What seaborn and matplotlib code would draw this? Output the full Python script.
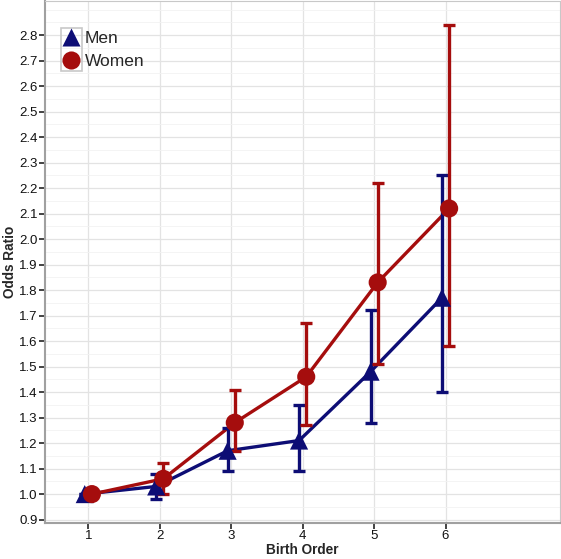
import matplotlib
matplotlib.use("Agg")
import matplotlib.pyplot as plt
import numpy as np
import pandas as pd
import seaborn as sns
from matplotlib.patches import Rectangle
from matplotlib.ticker import MultipleLocator, FormatStrFormatter

birth_order = [1, 2, 3, 4, 5, 6]
men_or = [1.00, 1.03, 1.17, 1.21, 1.48, 1.77]
men_lo = [1.00, 0.98, 1.09, 1.09, 1.28, 1.40]
men_hi = [1.00, 1.08, 1.26, 1.35, 1.72, 2.25]
women_or = [1.00, 1.06, 1.28, 1.46, 1.83, 2.12]
women_lo = [1.00, 1.00, 1.17, 1.27, 1.51, 1.58]
women_hi = [1.00, 1.12, 1.41, 1.67, 2.22, 2.84]

colors = {"Men": "#0d0d75", "Women": "#a50d0d"}
offsets = {"Men": -0.05, "Women": 0.05}

frames = []
for sex, orr, lo, hi in [("Men", men_or, men_lo, men_hi), ("Women", women_or, women_lo, women_hi)]:
    frames.append(pd.DataFrame({
        "birth_order": np.array(birth_order) + offsets[sex],
        "odds_ratio": orr, "lo": lo, "hi": hi, "sex": sex,
    }))
df = pd.concat(frames, ignore_index=True)

sns.set_style("white")
plt.rcParams["font.family"] = ["Liberation Sans", "DejaVu Sans"]

fig, ax = plt.subplots(figsize=(5.61, 5.59), dpi=100)
fig.subplots_adjust(left=0.081, right=0.998, top=0.998, bottom=0.065)

sns.lineplot(data=df, x="birth_order", y="odds_ratio", hue="sex", palette=colors,
             linewidth=2.4, legend=False, ax=ax, zorder=2)
for sex, sub in df.groupby("sex"):
    ax.errorbar(sub["birth_order"], sub["odds_ratio"],
                yerr=[sub["odds_ratio"] - sub["lo"], sub["hi"] - sub["odds_ratio"]],
                fmt="none", ecolor=colors[sex], elinewidth=2.4, capsize=4, capthick=2.4, zorder=3)
sns.scatterplot(data=df, x="birth_order", y="odds_ratio", hue="sex", style="sex",
                markers={"Men": "^", "Women": "o"}, palette=colors, s=170,
                edgecolor="none", ax=ax, zorder=4)

ax.set_xlim(0.4, 7.6)
ax.set_ylim(0.888, 2.933)
ax.set_xticks(birth_order)
ax.yaxis.set_major_formatter(FormatStrFormatter("%.1f"))
ax.yaxis.set_minor_locator(MultipleLocator(0.05))
ax.set_yticks(np.arange(0.9, 2.81, 0.1))
ax.grid(which="major", color="#e3e3e3", linewidth=0.9)
ax.grid(which="minor", axis="y", color="#f2f2f2", linewidth=0.6)
ax.set_axisbelow(True)
for side in ["top", "right"]:
    ax.spines[side].set_color("#c8c8c8")
for side in ["left", "bottom"]:
    ax.spines[side].set_color("#a0a0a0")
    ax.spines[side].set_linewidth(1.5)
ax.tick_params(which="major", length=4, width=1.2, color="#222222", labelsize=9.5, pad=1.5,
               direction="out", left=True, bottom=True, labelcolor="#111111")
ax.tick_params(which="minor", length=0)

ax.set_xlabel("Birth Order", fontsize=9.8, fontweight="bold")
ax.set_ylabel("Odds Ratio", fontsize=9.8, fontweight="bold")
ax.xaxis.set_label_coords(0.5, -0.039)
ax.yaxis.set_label_coords(-0.056, 0.5)

leg = ax.legend(loc="upper left", bbox_to_anchor=(-0.011, 0.969), frameon=False, fontsize=12.5,
                handletextpad=-0.2, borderpad=0.3, labelspacing=0.44, markerscale=1.0)
# gray key box like the original legend
ax.add_patch(Rectangle((0.031, 0.866), 0.041, 0.082, transform=ax.transAxes,
                       fill=False, edgecolor="#c8c8c8", linewidth=1.2, zorder=5))

fig.savefig("out.png", dpi=100)
